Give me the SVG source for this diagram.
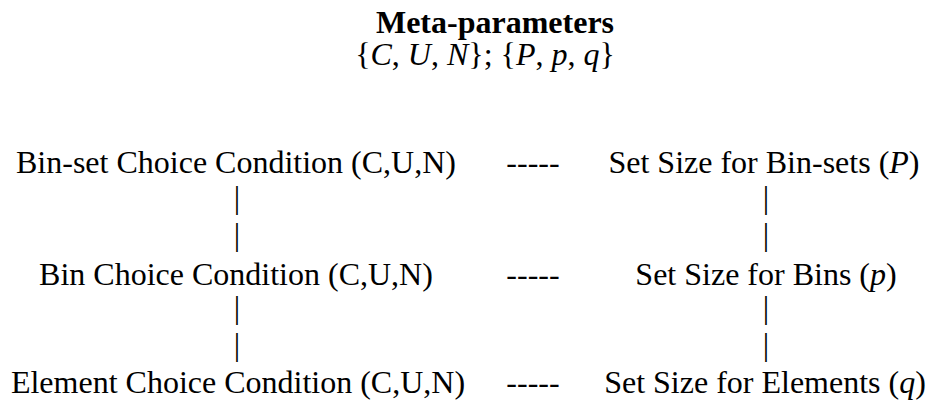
<svg xmlns="http://www.w3.org/2000/svg" width="930" height="404" viewBox="0 0 930 404">
<style>
text { font-family: "Liberation Serif", "Times New Roman", serif; font-size: 32px; fill: #000; text-anchor: middle; }
.b { font-weight: bold; }
.i { font-style: italic; }
</style>
<rect width="930" height="404" fill="#fff"/>
<g id="meta">
<text class="b" x="495" y="33">Meta-parameters</text>
<text x="485" y="65">{<tspan class="i">C</tspan>, <tspan class="i">U</tspan>, <tspan class="i">N</tspan>}; {<tspan class="i">P</tspan>, <tspan class="i">p</tspan>, <tspan class="i">q</tspan>}</text>
</g>
<g id="binset-choice"><text x="236" y="173">Bin-set Choice Condition (C,U,N)</text></g>
<g id="bin-choice"><text x="236" y="285">Bin Choice Condition (C,U,N)</text></g>
<g id="element-choice"><text x="238" y="393">Element Choice Condition (C,U,N)</text></g>
<g id="binset-size"><text x="764" y="173">Set Size for Bin-sets (<tspan class="i">P</tspan>)</text></g>
<g id="bin-size"><text x="766" y="285">Set Size for Bins (<tspan class="i">p</tspan>)</text></g>
<g id="element-size"><text x="765" y="393">Set Size for Elements (<tspan class="i">q</tspan>)</text></g>
<g id="connectors">
<text x="533" y="173">-----</text>
<text x="533" y="285">-----</text>
<text x="533" y="393">-----</text>
<text x="237" y="208">|</text>
<text x="237" y="245">|</text>
<text x="237" y="318">|</text>
<text x="237" y="355">|</text>
<text x="766" y="208">|</text>
<text x="766" y="245">|</text>
<text x="766" y="318">|</text>
<text x="766" y="355">|</text>
</g>
</svg>
